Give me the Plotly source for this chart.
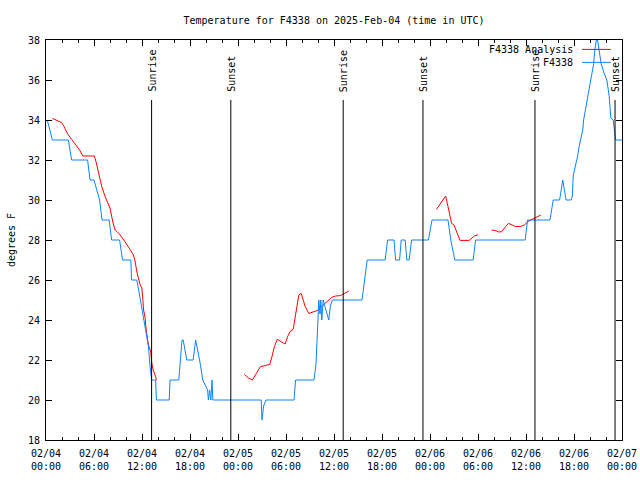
import plotly.graph_objects as go

# ---- data (hours since 2025-02-04 00:00 UTC) ----
obs_hours = [0.16, 0.8, 2.8, 3.2, 5.2, 5.5, 6.0, 6.7, 7.0, 7.9, 8.2, 9.2, 9.56, 10.6, 10.7, 11.35,
             11.8, 12.6, 12.8, 13.0, 13.1, 13.2, 13.7, 13.8, 15.4, 15.5, 16.6, 16.9, 17.0, 17.15,
             17.6, 18.4, 18.7, 19.2, 19.6, 19.9, 20.2, 20.3, 20.45, 20.6, 20.75, 20.85, 26.9, 27.0,
             27.2, 27.5, 31.0, 31.2, 33.5, 33.75, 33.9, 34.0, 34.1, 34.25, 34.35, 34.47, 34.65,
             34.85, 35.15, 35.35, 35.55, 35.78, 39.5, 39.8, 40.0, 40.15, 42.4, 42.7, 43.5, 43.7,
             44.2, 44.4, 44.9, 45.1, 45.4, 45.7, 47.8, 48.25, 50.25, 50.6, 51.1, 53.4, 53.7, 59.9,
             60.2, 63.0, 63.4, 64.2, 64.6, 65.0, 65.65, 65.8, 65.9, 66.2, 66.45, 66.65, 66.9, 67.1,
             67.2, 67.5, 67.7, 67.9, 68.2, 68.45, 68.6, 68.8, 68.95, 69.15, 69.4, 69.8, 70.1, 70.4,
             70.6, 70.9, 71.1, 71.2, 72.0]
obs_temp = [34, 33, 33, 32, 32, 31, 31, 30, 29, 29, 28, 28, 27, 27, 26, 26,
            25, 23.2, 22.7, 21.7, 21.25, 21, 21, 20, 20, 21, 21, 22.5, 23, 23,
            22, 22, 23, 22, 21, 20.75, 20.5, 20, 20.5, 20, 21, 20, 20, 19,
            19.7, 20, 20, 21, 21, 21.8, 23, 24.3, 25, 24.3, 25, 24, 25,
            24.7, 24.3, 24, 24.7, 25, 25, 26, 26.5, 27, 27, 28, 28, 27,
            27, 28, 28, 27, 27, 28, 28, 29, 29, 28, 27, 27, 28, 28,
            29, 29, 30, 30, 31, 30, 30, 30.2, 31.2, 31.7, 32.2, 32.7, 33.2, 33.5,
            34, 34.7, 35.2, 35.5, 36.2, 36.8, 37.5, 38, 38, 37.5, 36.8, 36.3, 36, 35.2,
            34.1, 34, 33.3, 33, 33]

ana_hours = [0.8, 1.33, 1.96, 2.25, 2.67, 3.2, 3.76, 4.2, 4.6, 6.05, 6.26, 6.55, 6.97, 7.39, 7.8,
             8.0, 8.35, 8.64, 8.93, 9.27, 9.9, 10.5, 10.9, 11.1, 11.4, 11.77, 11.98, 12.1, 12.2,
             12.4, 12.5, 12.8, 13.1, 13.2, 13.4, 13.7, 13.8,
             None,
             24.8, 25.3, 25.8, 26.3, 26.8, 27.4, 27.97, 28.3, 28.55, 28.9, 29.4, 29.9, 30.2, 30.55,
             30.9, 31.2, 31.4, 31.6, 31.9, 32.15, 32.4, 32.85, 33.4, 33.9, 35.7, 36.2, 36.8, 37.2,
             37.85,
             None,
             48.8, 49.3, 49.75, 49.96, 50.25, 50.5, 50.7, 51.0, 51.3, 51.55, 51.75, 52.9, 53.3,
             53.6, 54.0,
             None,
             55.7, 56.2, 56.6, 56.97, 57.35, 57.8, 58.3, 58.7, 59.35, 59.8, 60.2, 60.6, 61.0,
             61.45, 61.86]
ana_temp = [34.08, 33.97, 33.87, 33.67, 33.33, 33.03, 32.75, 32.5, 32.2, 32.2, 31.9, 31.33, 30.67,
            30.17, 29.75, 29.6, 28.9, 28.5, 28.4, 28.25, 27.9, 27.5, 27.28, 27.0, 26.33, 25.75,
            25.6, 25.05, 24.5, 24.08, 23.58, 22.75, 22.4, 21.9, 21.5, 21.17, 21.0,
            None,
            21.28, 21.1, 21.0, 21.33, 21.67, 21.72, 21.78, 22.25, 22.67, 23.03, 22.92, 22.8, 23.17,
            23.45, 23.53, 24.33, 24.83, 25.25, 25.33, 25.0, 24.67, 24.33, 24.42, 24.47, 25.13,
            25.2, 25.22, 25.3, 25.45,
            None,
            29.53, 29.8, 30.08, 30.2, 29.67, 29.17, 28.83, 28.75, 28.42, 28.17, 27.98, 27.98,
            28.12, 28.22, 28.25,
            None,
            28.5, 28.47, 28.4, 28.42, 28.62, 28.83, 28.75, 28.67, 28.68, 28.75, 28.92, 29.0,
            29.08, 29.17, 29.25]

sunrise_hours = [13.2, 37.15, 61.12]
sunset_hours = [23.1, 47.12, 71.13]

tick_hours = [0, 6, 12, 18, 24, 30, 36, 42, 48, 54, 60, 66, 72]
tick_labels = ["02/04<br>00:00", "02/04<br>06:00", "02/04<br>12:00", "02/04<br>18:00",
               "02/05<br>00:00", "02/05<br>06:00", "02/05<br>12:00", "02/05<br>18:00",
               "02/06<br>00:00", "02/06<br>06:00", "02/06<br>12:00", "02/06<br>18:00",
               "02/07<br>00:00"]

series_names = ["F4338 Analysis", "F4338"]
RED = "#ff0000"
BLUE = "#0a84ff"
FONT = "DejaVu Sans Mono"

fig = go.Figure()
fig.add_trace(go.Scatter(x=ana_hours, y=ana_temp, mode="lines", name=series_names[0],
                         line=dict(color=RED, width=1), connectgaps=False, showlegend=False))
fig.add_trace(go.Scatter(x=obs_hours, y=obs_temp, mode="lines", name=series_names[1],
                         line=dict(color=BLUE, width=1), showlegend=False))

shapes = []
annotations = []
for label, hours in (("Sunrise", sunrise_hours), ("Sunset", sunset_hours)):
    for h in hours:
        shapes.append(dict(type="line", xref="x", yref="y", x0=h, x1=h, y0=18, y1=35,
                           line=dict(color="black", width=1)))
        annotations.append(dict(x=h, y=35, xref="x", yref="y", text=label, textangle=-90,
                                showarrow=False, xanchor="center", yanchor="bottom", yshift=6,
                                font=dict(family=FONT, size=10, color="black")))

# legend (text left of the line sample, as in the reference)
leg_y = [37.53, 36.88]
leg_col = [RED, BLUE]
for name, yv, col in zip(series_names, leg_y, leg_col):
    annotations.append(dict(x=66.1, y=yv, xref="x", yref="y", text=name, showarrow=False,
                            xanchor="right", yanchor="middle",
                            font=dict(family=FONT, size=10, color="black")))
    shapes.append(dict(type="line", xref="x", yref="y", x0=67.0, x1=70.6, y0=yv, y1=yv,
                       line=dict(color=col, width=1)))

W, H = 640, 480
fig.update_layout(
    width=W, height=H,
    paper_bgcolor="white", plot_bgcolor="white",
    margin=dict(l=46, r=18, t=40, b=40, autoexpand=False),
    title=dict(text="Temperature for F4338 on 2025-Feb-04 (time in UTC)", x=0.5, xref="paper",
               xanchor="center", y=1 - 20 / H, yref="container", yanchor="middle",
               font=dict(family=FONT, size=10, color="black")),
    font=dict(family=FONT, size=10, color="black"),
    shapes=shapes, annotations=annotations,
    xaxis=dict(range=[0, 72], tickvals=tick_hours, ticktext=tick_labels, showgrid=False,
               zeroline=False, showline=True, linecolor="black", linewidth=1, mirror="ticks",
               ticks="inside", ticklen=6, tickcolor="black", tickwidth=1, automargin=False,
               ticklabelstandoff=4, ticklabeloverflow="allow",
               minor=dict(dtick=2, ticks="inside", ticklen=3, tickcolor="black", showgrid=False),
               tickfont=dict(family=FONT, size=10, color="black")),
    yaxis=dict(range=[18, 38], dtick=2, showgrid=False, zeroline=False, showline=True,
               linecolor="black", linewidth=1, mirror="ticks", ticks="inside", ticklen=6,
               tickcolor="black", tickwidth=1, automargin=False, ticklabelstandoff=3,
               title=dict(text="degrees F", standoff=10, font=dict(family=FONT, size=10, color="black")),
               tickfont=dict(family=FONT, size=10, color="black")),
)

# remove the default 8px page margin so the 640x480 figure fills the window exactly
fig.write_html("out.html", config={"displayModeBar": False},
               post_script="document.body.style.margin='0';document.body.style.overflow='hidden';")
